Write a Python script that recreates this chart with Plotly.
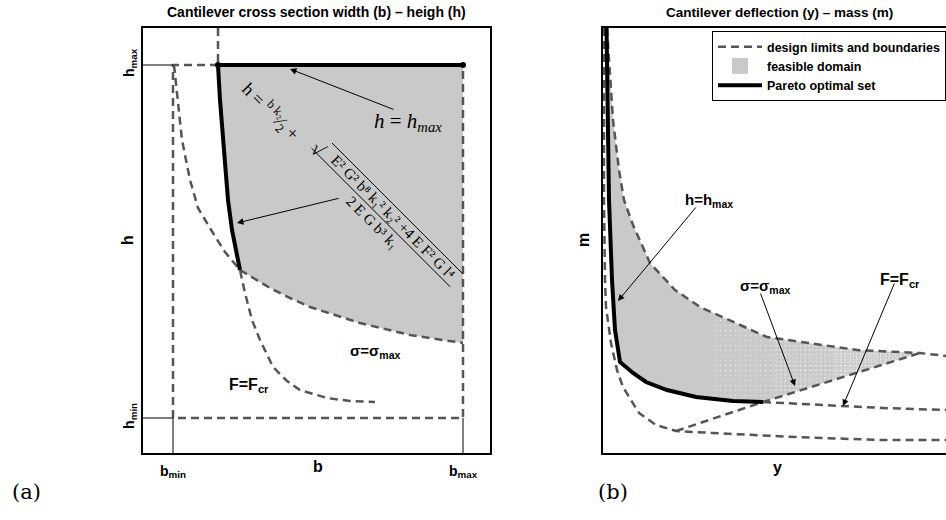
import numpy as np
import plotly.graph_objects as go

# ---------------- panel (a): cross-section width b vs height h ----------------
b_min, b_max = 3.0, 32.0
h_min, h_max = 3.5, 38.8
b_range = [0, 34.7]
h_range = [0, 42.5]

# F = F_cr limit
fcr_b = [3.1, 3.5, 3.9, 4.7, 5.5, 7.0, 8.2, 9.7, 10.2, 10.9, 11.7, 13.0, 14.4, 15.7, 18.4, 20.7, 23.2]
fcr_h = [38.8, 35.3, 31.3, 27.3, 24.5, 22.0, 20.1, 18.3, 16.0, 13.3, 11.3, 8.6, 7.2, 6.3, 5.5, 5.2, 5.1]

# analytic Pareto branch continued above h_max
ext_b = [7.5, 7.5]
ext_h = [42.5, 38.8]

# Pareto optimal set: h = h_max segment followed by the analytic branch
par_b = [32.0, 7.5, 7.7, 7.9, 8.2, 8.5, 8.9, 9.3, 9.7]
par_h = [38.8, 38.8, 35.3, 32.6, 28.3, 25.3, 22.3, 20.1, 18.3]

# sigma = sigma_max limit
sig_b = [9.7, 12.7, 14.7, 16.7, 21.7, 26.7, 32.0]
sig_h = [18.3, 16.5, 15.5, 14.6, 13.0, 11.8, 11.0]

# ---------------- panel (b): deflection y vs mass m ----------------
y_range = [0, 34.3]
m_range = [0, 42.5]

# Pareto front
pf_y = [0.35, 0.45, 0.6, 0.9, 1.2, 1.7, 3.0, 4.3, 6.4, 9.3, 13.0, 16.0]
pf_m = [42.5, 33.3, 25.3, 17.3, 12.3, 9.1, 8.0, 7.1, 6.3, 5.6, 5.2, 5.1]

# upper boundary of the feasible domain
up_y = [0.4, 0.6, 1.0, 1.6, 2.1, 3.0, 4.7, 7.2, 9.7, 16.4, 25.4, 31.7, 34.3]
up_m = [42.5, 39.3, 33.3, 28.3, 25.3, 22.8, 19.0, 16.3, 14.6, 11.6, 10.3, 10.0, 9.7]

# sigma = sigma_max image
sy_y = [7.3, 16.0, 31.7]
sy_m = [2.2, 5.1, 10.0]

# outer limit curve
out_y = [0.1, 0.1, 0.2, 0.3, 0.8, 1.4, 2.0, 3.6, 5.3, 7.3, 11.0, 19.3, 27.7, 34.3]
out_m = [42.5, 25.3, 17.3, 14.6, 11.0, 8.3, 6.6, 4.0, 2.8, 2.2, 2.0, 1.6, 1.3, 1.3]

# F = F_cr image
fy_y = [16.0, 20.0, 23.7, 28.0, 34.3]
fy_m = [5.1, 4.9, 4.7, 4.5, 4.3]

# ---------------- styles ----------------
DASH = dict(color="#555555", width=2.5, dash="8px,5px")
GREY = "#c9c9c9"
SANS = "Liberation Sans, Arial, sans-serif"
SERIF = "Liberation Serif, DejaVu Serif, serif"

fig = go.Figure()

def add(xs, ys, ax, **kw):
    xa, ya = ("x", "y") if ax == 1 else ("x2", "y2")
    fig.add_trace(go.Scatter(x=xs, y=ys, xaxis=xa, yaxis=ya, **kw))

# ---- panel (a) ----
feas_b = par_b + sig_b[1:]
feas_h = par_h + sig_h[1:]
add(feas_b, feas_h, 1, fill="toself", fillcolor=GREY, mode="lines",
    line=dict(width=0), showlegend=False, hoverinfo="skip")

# design limits rectangle
add([7.5, b_min, b_min, b_max, b_max], [h_max, h_max, h_min, h_min, h_max], 1,
    mode="lines", line=DASH, showlegend=False)
# solid reference lines from the axes to the limits
for xs, ys in [([0, b_min], [h_max, h_max]), ([0, b_min], [h_min, h_min]),
               ([b_min, b_min], [0, h_min]), ([b_max, b_max], [0, h_min])]:
    add(xs, ys, 1, mode="lines", line=dict(color="black", width=1), showlegend=False)

add(fcr_b, fcr_h, 1, mode="lines", line=DASH, showlegend=False)
add(ext_b, ext_h, 1, mode="lines", line=DASH, showlegend=False)
add(sig_b, sig_h, 1, mode="lines", line=DASH, showlegend=False)
add(par_b, par_h, 1, mode="lines", line=dict(color="black", width=4), showlegend=False)
add(par_b[:2], par_h[:2], 1, mode="markers", marker=dict(color="black", size=6), showlegend=False)

# ---- panel (b) ----
low_y = pf_y + [sy_y[-1]]
low_m = pf_m + [sy_m[-1]]
fb_y = pf_y + sy_y[1:] + up_y[:-1][::-1][1:]
fb_m = pf_m + sy_m[1:] + up_m[:-1][::-1][1:]
add(fb_y, fb_m, 2, fill="toself", fillcolor=GREY, mode="lines", line=dict(width=0),
    showlegend=False, hoverinfo="skip")

# speckled texture towards the large-deflection end of the domain
for x0, size, sol in [(11.0, 5, 0.08), (17.0, 4, 0.14), (23.0, 3, 0.18)]:
    xs = np.linspace(x0, sy_y[-1], 60)
    top = np.interp(xs, up_y, up_m)
    bot = np.interp(xs, low_y, low_m)
    add(list(xs) + list(xs[::-1]), list(top) + list(bot[::-1]), 2, fill="toself",
        mode="lines", line=dict(width=0), fillcolor="rgba(0,0,0,0)",
        fillpattern=dict(shape=".", fgcolor="white", bgcolor="rgba(0,0,0,0)",
                         size=size, solidity=sol),
        showlegend=False, hoverinfo="skip")

add(out_y, out_m, 2, mode="lines", line=DASH, name="design limits and boundaries", legendrank=1)
add(up_y, up_m, 2, mode="lines", line=DASH, showlegend=False)
add(sy_y, sy_m, 2, mode="lines", line=DASH, showlegend=False)
add(fy_y, fy_m, 2, mode="lines", line=DASH, showlegend=False)
add(pf_y, pf_m, 2, mode="lines", line=dict(color="black", width=4),
    name="Pareto optimal set", legendrank=3)
# legend swatch for the feasible domain
add([None], [None], 2, mode="markers", marker=dict(symbol="square", size=16, color=GREY),
    name="feasible domain", legendrank=2)

# ---------------- axes ----------------
yd = [1 - 453 / 520, 1 - 28 / 520]
axis_common = dict(showgrid=False, zeroline=False, showline=True, linecolor="black",
                   linewidth=1.5, ticks="", fixedrange=True)
tick_font = dict(family=SANS, size=14, color="black", weight="bold")
fig.update_layout(
    xaxis=dict(domain=[143 / 946, 490 / 946], range=b_range, mirror=True,
               tickvals=[b_min, b_max], ticktext=["b<sub>min</sub>", "b<sub>max</sub>"],
               tickfont=tick_font, ticklabelstandoff=4, anchor="y", **axis_common),
    yaxis=dict(domain=yd, range=h_range, mirror=True,
               tickvals=[h_min, h_max], ticktext=["h<sub>min</sub>", "h<sub>max</sub>"],
               tickangle=-90, tickfont=tick_font, ticklabelstandoff=2, anchor="x", **axis_common),
    xaxis2=dict(domain=[603 / 946, 1.0], range=y_range, mirror=True, showticklabels=False,
                anchor="y2", **axis_common),
    yaxis2=dict(domain=yd, range=m_range, mirror=False, showticklabels=False,
                anchor="x2", **axis_common),
)

ann = []
def text(x, y, t, ref=1, size=12, family=SANS, bold=True, angle=0, xanchor="center", yanchor="middle"):
    xr, yr = {0: ("paper", "paper"), 1: ("x", "y"), 2: ("x2", "y2")}[ref]
    ann.append(dict(x=x, y=y, xref=xr, yref=yr, text=t, showarrow=False, textangle=angle,
                    xanchor=xanchor, yanchor=yanchor,
                    font=dict(family=family, size=size, color="black",
                              weight="bold" if bold else "normal")))

def arrow(tail, tip, ref=1):
    xr, yr = ("x", "y") if ref == 1 else ("x2", "y2")
    ann.append(dict(x=tip[0], y=tip[1], ax=tail[0], ay=tail[1], xref=xr, yref=yr,
                    axref=xr, ayref=yr, text="", showarrow=True, arrowhead=2,
                    arrowsize=1.3, arrowwidth=1, arrowcolor="black"))

# titles
text(316.5 / 946, 1 - 12 / 520, "Cantilever cross section width (b) \u2013 heigh (h)", 0, size=14)
text(779 / 946, 1 - 12 / 520, "Cantilever deflection (y) \u2013 mass (m)", 0, size=13.5)
# axis titles
text(127 / 946, 1 - 240 / 520, "h", 0, size=16, angle=-90)
text(318 / 946, 1 - 466 / 520, "b", 0, size=16)
text(583 / 946, 1 - 240 / 520, "m", 0, size=16, angle=-90)
text(777 / 946, 1 - 467 / 520, "y", 0, size=16)
# panel tags
text(26 / 946, 1 - 492 / 520, "(a)", 0, size=21, family="DejaVu Serif", bold=False)
text(613 / 946, 1 - 492 / 520, "(b)", 0, size=21, family="DejaVu Serif", bold=False)

# panel (a) labels
text(20.5, 10.15, "\u03c3=\u03c3<sub>max</sub>", 1, size=15, xanchor="left")
text(8.4, 6.8, "F=F<sub>cr</sub>", 1, size=16, xanchor="left")
text(26.5, 33.1, "<i>h</i> = <i>h<sub>max</sub></i>", 1, size=21, family=SERIF, bold=False)
arrow((25.2, 34.3), (14.7, 38.4))
arrow((19.7, 25.5), (9.4, 23.0))

# analytic Pareto branch written along the diagonal
text(12.8, 34.2, "h = <sup>b k\u2082</sup>\u2044<sub>2</sub> +", 1, size=18, family=SERIF,
     bold=False, angle=45)
text(17.5, 30.45, "\u221a", 1, size=20, family=SERIF, bold=False, angle=45)
text(25.0, 23.6, "E\u00b2 G\u00b2 b\u2078 k\u2081\u00b2 k\u2082\u00b2 +4 E F\u00b2 G l\u2074", 1,
     size=15, family=SERIF, bold=False, angle=45)
text(22.9, 23.1, "2 E G b\u00b3 k\u2081", 1, size=15, family=SERIF, bold=False, angle=45)

shapes = [
    # radical bar
    dict(type="line", xref="x", yref="y", x0=18.9, y0=31.0, x1=32.0, y1=17.9,
         line=dict(color="black", width=1)),
    # fraction bar
    dict(type="line", xref="x", yref="y", x0=16.85, y0=30.48, x1=30.71, y1=16.63,
         line=dict(color="black", width=1)),
]

# panel (b) labels
text(8.0, 25.3, "h=h<sub>max</sub>", 2, size=15, xanchor="left")
text(13.5, 16.7, "\u03c3=\u03c3<sub>max</sub>", 2, size=15, xanchor="left")
text(27.5, 17.3, "F=F<sub>cr</sub>", 2, size=16, xanchor="left")
arrow((9.4, 24.7), (1.5, 15.2), 2)
arrow((15.7, 16.1), (19.2, 6.7), 2)
arrow((29.2, 17.1), (24.0, 4.7), 2)

fig.update_layout(
    width=946, height=520, margin=dict(l=0, r=0, t=0, b=0),
    paper_bgcolor="white", plot_bgcolor="white",
    annotations=ann, shapes=shapes,
    legend=dict(x=712 / 946, y=1 - 31 / 520, xanchor="left", yanchor="top",
                bordercolor="black", borderwidth=1, bgcolor="white",
                font=dict(family=SANS, size=12.5, color="black", weight="bold"),
                tracegroupgap=0, itemwidth=44),
    showlegend=True,
)

fig.write_html("out.html")
